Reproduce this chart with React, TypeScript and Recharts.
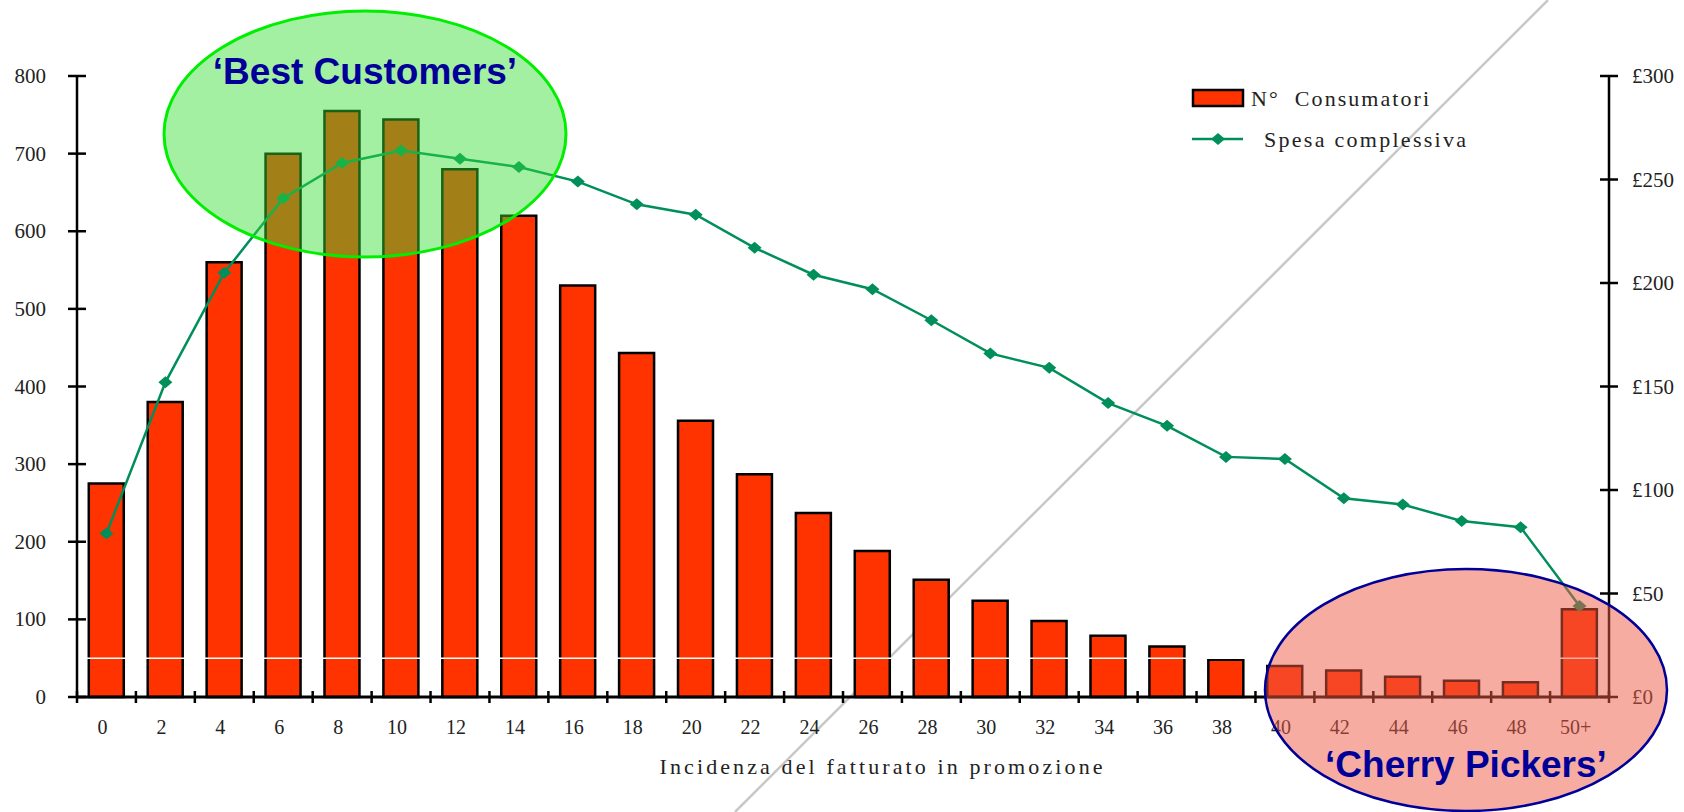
import { ComposedChart, Bar, Line, XAxis, YAxis, ReferenceLine, Legend } from 'recharts'

const categories = ['0', '2', '4', '6', '8', '10', '12', '14', '16', '18', '20', '22', '24', '26', '28', '30', '32', '34', '36', '38', '40', '42', '44', '46', '48', '50+']
const consumatori = [275, 380, 560, 700, 755, 744, 680, 620, 530, 443, 356, 287, 237, 188, 151, 124, 98, 79, 65, 48, 40, 34, 26, 21, 19, 113]
const spesa = [79, 152, 205, 241, 258, 264, 260, 256, 249, 238, 233, 217, 204, 197, 182, 166, 159, 142, 131, 116, 115, 96, 93, 85, 82, 44]
const leftTicks = [0, 100, 200, 300, 400, 500, 600, 700, 800]
const rightTicks = [0, 50, 100, 150, 200, 250, 300]

const W = 1684
const H = 812
const PLOT_LEFT = 77
const PLOT_RIGHT = 1609
const BAND = (PLOT_RIGHT - PLOT_LEFT) / categories.length

const BAR_RED = '#FF3300'
const LINE_GREEN = '#008F5A'
const NAVY = '#000099'
const SERIF = '"Liberation Serif", "Times New Roman", serif'
const SANS = '"Liberation Sans", Arial, sans-serif'

const data = categories.map((c, i) => ({ cat: c, consumatori: consumatori[i], spesa: spesa[i] }))

const Diamond = ({ cx, cy }: { cx?: number; cy?: number }) => {
  if (cx == null || cy == null) return null
  return <path d={`M${cx - 7},${cy} L${cx},${cy - 6} L${cx + 7},${cy} L${cx},${cy + 6} Z`} fill={LINE_GREEN} />
}

const LeftTick = (props: any) => {
  const { x, y, payload } = props
  const ax = x + 31
  return (
    <g>
      <line x1={ax - 9} x2={ax + 9} y1={y} y2={y} stroke="#000" strokeWidth={2.5} />
      <text x={x} y={y} dy={7} textAnchor="end" fontFamily={SERIF} fontSize={21} fill="#222">
        {payload.value}
      </text>
    </g>
  )
}

const RightTick = (props: any) => {
  const { x, y, payload } = props
  const ax = x - 23
  return (
    <g>
      <line x1={ax - 9} x2={ax + 9} y1={y} y2={y} stroke="#000" strokeWidth={2.5} />
      <text x={x} y={y} dy={7} textAnchor="start" fontFamily={SERIF} fontSize={21} fill="#222">
        {`£${payload.value}`}
      </text>
    </g>
  )
}

const BottomTick = (props: any) => {
  const { x, y, payload, index } = props
  const ay = y - 10
  const last = index === categories.length - 1
  return (
    <g>
      <line x1={x - BAND / 2} x2={x - BAND / 2} y1={ay - 6} y2={ay + 6} stroke="#000" strokeWidth={2.5} />
      {last && <line x1={x + BAND / 2} x2={x + BAND / 2} y1={ay - 6} y2={ay + 6} stroke="#000" strokeWidth={2.5} />}
      <text x={x} y={y} dx={-4} dy={27} textAnchor="middle" fontFamily={SERIF} fontSize={20} fill="#222">
        {payload.value}
      </text>
    </g>
  )
}

const XLabel = (props: any) => {
  const vb = props.viewBox || { x: 0, y: 0, width: 0, height: 0 }
  return (
    <text
      x={vb.x + vb.width / 2 + 38}
      y={vb.y + 77}
      textAnchor="middle"
      fontFamily={SERIF}
      fontSize={22}
      fill="#222"
      textLength={443}
      lengthAdjust="spacing"
    >
      Incidenza del fatturato in promozione
    </text>
  )
}

const LegendBox = () => (
  <svg width={320} height={90} style={{ display: 'block' }}>
    <rect x={3} y={12} width={50} height={16} fill={BAR_RED} stroke="#000" strokeWidth={2.5} />
    <text x={61} y={28} fontFamily={SERIF} fontSize={22} fill="#222" textLength={178} lengthAdjust="spacing" style={{ whiteSpace: 'pre' }}>
      {'N°  Consumatori'}
    </text>
    <line x1={2} x2={53} y1={61} y2={61} stroke={LINE_GREEN} strokeWidth={2.5} />
    <Diamond cx={28} cy={61} />
    <text x={74} y={69} fontFamily={SERIF} fontSize={22} fill="#222" textLength={202} lengthAdjust="spacing">
      Spesa complessiva
    </text>
  </svg>
)

export default function App() {
  return (
    <div style={{ position: 'absolute', left: 0, top: 0, width: W, height: H, background: '#fff', overflow: 'hidden' }}>
      <svg width={W} height={H} style={{ position: 'absolute', left: 0, top: 0 }}>
        <line x1={1548} y1={0} x2={735} y2={H} stroke="#c8c8c8" strokeWidth={2.5} />
      </svg>
      <div style={{ position: 'absolute', left: 0, top: 0 }}>
        <ComposedChart width={W} height={H} data={data} margin={{ top: 76, right: 15, bottom: 55, left: 17 }} barCategoryGap="20%">
          <XAxis
            dataKey="cat"
            height={60}
            interval={0}
            tickSize={6}
            tickMargin={4}
            tickLine={false}
            axisLine={{ stroke: '#000', strokeWidth: 3 }}
            tick={<BottomTick />}
            label={<XLabel />}
          />
          <YAxis
            yAxisId="left"
            orientation="left"
            width={60}
            domain={[0, 800]}
            ticks={leftTicks}
            interval={0}
            tickSize={9}
            tickMargin={22}
            tickLine={false}
            axisLine={{ stroke: '#000', strokeWidth: 2.5 }}
            tick={<LeftTick />}
          />
          <YAxis
            yAxisId="right"
            orientation="right"
            width={60}
            domain={[0, 300]}
            ticks={rightTicks}
            interval={0}
            tickSize={9}
            tickMargin={14}
            tickLine={false}
            axisLine={{ stroke: '#000', strokeWidth: 2.5 }}
            tick={<RightTick />}
          />
          <Legend
            layout="vertical"
            align="center"
            verticalAlign="middle"
            wrapperStyle={{ left: 1190, top: 78, width: 320, height: 90 }}
            content={() => <LegendBox />}
          />
          <Bar yAxisId="left" dataKey="consumatori" fill={BAR_RED} stroke="#000" strokeWidth={2.5} isAnimationActive={false} />
          <ReferenceLine yAxisId="left" y={50} stroke="#fff" strokeWidth={1.5} />
          <Line
            yAxisId="right"
            dataKey="spesa"
            stroke={LINE_GREEN}
            strokeWidth={2.5}
            dot={<Diamond />}
            activeDot={false}
            isAnimationActive={false}
          />
        </ComposedChart>
      </div>
      <svg width={W} height={H} style={{ position: 'absolute', left: 0, top: 0, pointerEvents: 'none' }}>
        <ellipse cx={365} cy={134} rx={201} ry={123} fill="#33dd33" fillOpacity={0.45} stroke="#00ee00" strokeWidth={3} />
        <text x={365} y={84} textAnchor="middle" fontFamily={SANS} fontWeight="bold" fontSize={37} fill={NAVY}>
          ‘Best Customers’
        </text>
        <ellipse cx={1466} cy={690} rx={201} ry={121} fill="#f05a46" fillOpacity={0.5} stroke={NAVY} strokeWidth={2.5} />
        <text x={1466} y={777} textAnchor="middle" fontFamily={SANS} fontWeight="bold" fontSize={37} fill={NAVY}>
          ‘Cherry Pickers’
        </text>
      </svg>
    </div>
  )
}
